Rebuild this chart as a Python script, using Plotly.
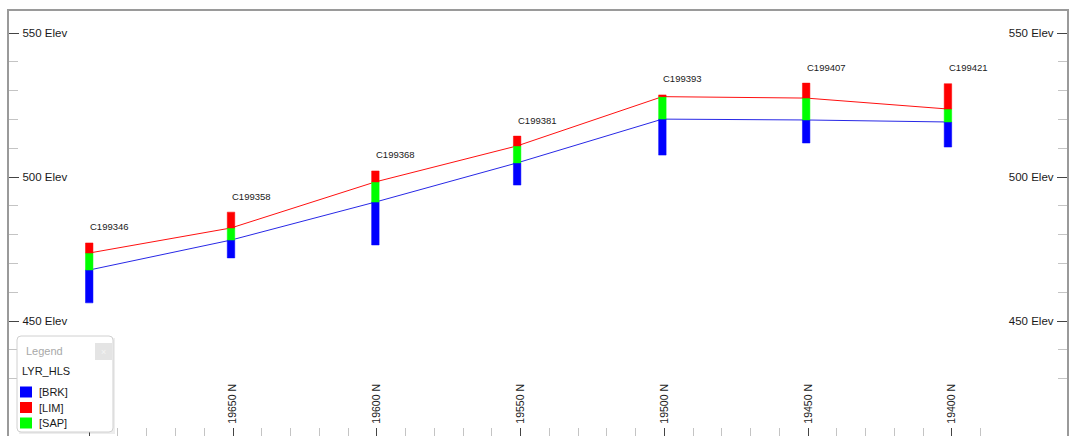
import plotly.graph_objects as go

# ---- drill-hole section data -------------------------------------------
HOLES = ["C199346", "C199358", "C199368", "C199381", "C199393", "C199407", "C199421"]
NORTHING = [19700.0, 19650.7, 19600.5, 19551.2, 19500.7, 19450.7, 19401.4]
COLLAR = [477.1, 487.8, 502.1, 514.2, 528.5, 532.6, 532.4]    # top of hole
SAP_TOP = [473.6, 482.3, 498.3, 510.8, 527.9, 527.4, 523.6]   # base of LIM
BRK_TOP = [467.7, 478.1, 491.3, 504.9, 520.1, 519.8, 519.1]   # base of SAP
EOH = [456.3, 471.9, 476.4, 497.2, 507.6, 511.8, 510.4]       # end of hole

LAYERS = ["BRK", "LIM", "SAP"]
LAYER_COLORS = {"BRK": "#0000ff", "LIM": "#ff0000", "SAP": "#00ff00"}
LAYER_FIELD = "LYR_HLS"

ELEV_TICKS = [450, 500, 550]
NORTH_TICKS = [19700, 19650, 19600, 19550, 19500, 19450, 19400]

# ---- page geometry ------------------------------------------------------
W, H = 1070, 436
ML, MR, MT, MB = 9, 3, 11, 0
PW, PH = W - ML - MR, H - MT - MB
X_RANGE = [19727.9, 19360.0]
Y_RANGE = [410.07, 557.64]
HALF_W = 1.3  # half trace width of a hole column, in metres


def px(x):
    return (x - ML) / PW


def py(y):
    return (H - MB - y) / PH


fig = go.Figure()

# surfaces joining the holes: top of SAP (red) and top of BRK (blue)
fig.add_trace(go.Scatter(x=NORTHING, y=SAP_TOP, mode="lines",
                         line=dict(color="#ff1010", width=1),
                         hoverinfo="skip", showlegend=False))
fig.add_trace(go.Scatter(x=NORTHING, y=BRK_TOP, mode="lines",
                         line=dict(color="#2828e6", width=1),
                         hoverinfo="skip", showlegend=False))

# hole columns, one filled trace per logged layer
intervals = {
    "BRK": list(zip(EOH, BRK_TOP)),
    "SAP": list(zip(BRK_TOP, SAP_TOP)),
    "LIM": list(zip(SAP_TOP, COLLAR)),
}
for layer in ["BRK", "SAP", "LIM"]:
    xs, ys = [], []
    for n, (lo, hi) in zip(NORTHING, intervals[layer]):
        xs += [n + HALF_W, n - HALF_W, n - HALF_W, n + HALF_W, n + HALF_W, None]
        ys += [lo, lo, hi, hi, lo, None]
    fig.add_trace(go.Scatter(x=xs, y=ys, mode="lines", fill="toself",
                             fillcolor=LAYER_COLORS[layer],
                             line=dict(color=LAYER_COLORS[layer], width=0.5),
                             hoverinfo="skip", showlegend=False, name=layer))

# carrier for the right-hand elevation axis
fig.add_trace(go.Scatter(x=NORTHING, y=COLLAR, yaxis="y2", mode="markers",
                         marker=dict(opacity=0), hoverinfo="skip",
                         showlegend=False))

# hole names above the collars
for name, n, top in zip(HOLES, NORTHING, COLLAR):
    fig.add_annotation(x=n, y=top, text=name, showarrow=False,
                       xanchor="left", yanchor="middle", xshift=-1, yshift=16,
                       font=dict(size=9.5, color="#1a1a1a"))

# ---- legend panel -------------------------------------------------------
shapes = []
bx0, by0, bx1, by1, r = 17, 336, 113, 432, 4
shapes.append(dict(type="rect", xref="paper", yref="paper",
                   x0=px(bx0 + 2), x1=px(bx1 + 2), y0=py(by1 + 2), y1=py(by0 + 2),
                   fillcolor="rgba(0,0,0,0.07)", line=dict(width=0), layer="above"))
path = (f"M {px(bx0 + r)},{py(by0)} L {px(bx1 - r)},{py(by0)} "
        f"Q {px(bx1)},{py(by0)} {px(bx1)},{py(by0 + r)} "
        f"L {px(bx1)},{py(by1 - r)} Q {px(bx1)},{py(by1)} {px(bx1 - r)},{py(by1)} "
        f"L {px(bx0 + r)},{py(by1)} Q {px(bx0)},{py(by1)} {px(bx0)},{py(by1 - r)} "
        f"L {px(bx0)},{py(by0 + r)} Q {px(bx0)},{py(by0)} {px(bx0 + r)},{py(by0)} Z")
shapes.append(dict(type="path", xref="paper", yref="paper", path=path,
                   fillcolor="white", line=dict(color="#d0d0d0", width=1),
                   layer="above"))
# close button
shapes.append(dict(type="rect", xref="paper", yref="paper",
                   x0=px(95), x1=px(112), y0=py(360), y1=py(343),
                   fillcolor="#e4e4e4", line=dict(width=0), layer="above"))
fig.add_annotation(xref="paper", yref="paper", x=px(103.5), y=py(351.5),
                   text="×", showarrow=False, xanchor="center", yanchor="middle",
                   font=dict(size=9, color="#f4f4f4"))
fig.add_annotation(xref="paper", yref="paper", x=px(24), y=py(350.5),
                   text="Legend", showarrow=False, xanchor="left",
                   yanchor="middle", font=dict(size=11, color="#a8a8a8"))
fig.add_annotation(xref="paper", yref="paper", x=px(20), y=py(371),
                   text=LAYER_FIELD, showarrow=False, xanchor="left",
                   yanchor="middle", font=dict(size=11, color="#1a1a1a"))
for i, layer in enumerate(LAYERS):
    top = 386.5 + i * 15.5
    shapes.append(dict(type="rect", xref="paper", yref="paper",
                       x0=px(20), x1=px(32), y0=py(top + 11), y1=py(top),
                       fillcolor=LAYER_COLORS[layer], line=dict(width=0),
                       layer="above"))
    fig.add_annotation(xref="paper", yref="paper", x=px(37), y=py(top + 5.5),
                       text=f"[{layer}]", showarrow=False, xanchor="left",
                       yanchor="middle", font=dict(size=11, color="#1a1a1a"))

axis_line = dict(showline=True, linecolor="#9a9a9a", linewidth=1.5,
                 showgrid=False, zeroline=False)
minor_y = dict(ticks="inside", ticklen=9, tickcolor="#c4c4c4", dtick=10, tick0=0)
elev_axis = dict(range=Y_RANGE, ticks="inside", ticklen=10, tickcolor="#444",
                 tickvals=ELEV_TICKS, ticktext=[f"{v} Elev" for v in ELEV_TICKS],
                 ticklabelposition="inside", ticklabelstandoff=3,
                 tickfont=dict(size=11.5, color="#1a1a1a"),
                 minor=minor_y, **axis_line)

fig.update_layout(
    width=W, height=H,
    margin=dict(l=ML, r=MR, t=MT, b=MB, pad=0),
    paper_bgcolor="white", plot_bgcolor="white",
    font=dict(family="Liberation Sans, Arial, sans-serif", color="#222"),
    showlegend=False,
    shapes=shapes,
    xaxis=dict(range=X_RANGE, mirror=True, ticks="inside", ticklen=8,
               tickcolor="#444", tickvals=NORTH_TICKS,
               ticktext=[f"{v} N" for v in NORTH_TICKS],
               tickangle=-90, ticklabelposition="inside",
               tickfont=dict(size=10.5, color="#1a1a1a"),
               minor=dict(ticks="inside", ticklen=8, tickcolor="#c4c4c4",
                          dtick=10, tick0=0),
               **axis_line),
    yaxis=elev_axis,
    yaxis2=dict(overlaying="y", side="right", **elev_axis),
)

fig.write_html("out.html")
